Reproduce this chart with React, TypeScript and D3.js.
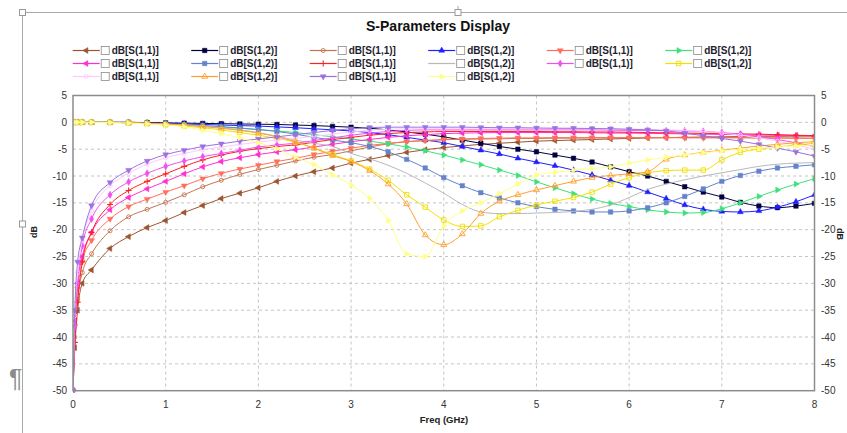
import React from 'react';
import * as d3 from 'd3';

// frequency sweep (GHz) shared by every trace
const FREQ = [0, 0.02, 0.05, 0.1, 0.2, 0.4, 0.6, 0.8, 1.0, 1.2, 1.4, 1.6, 1.8, 2.0, 2.2, 2.4, 2.6, 2.8, 3.0, 3.2, 3.4,
  3.6, 3.8, 4.0, 4.2, 4.4, 4.6, 4.8, 5.0, 5.2, 5.4, 5.6, 5.8, 6.0, 6.2, 6.4, 6.6, 6.8, 7.0, 7.2, 7.4, 7.6, 7.8, 8.0];

const S11_BROWN = [-50, -42, -35, -30,
  -27.5, -23.5, -21.3, -19.6, -18.3, -16.8, -15.5, -14.2, -13.2, -12.2, -11.0, -10.0, -9.2, -8.5, -7.6,
  -6.9, -6.2, -5.6, -5.1, -4.7, -4.4, -4.1, -3.9, -3.7, -3.5, -3.4, -3.3, -3.2, -3.1, -3.0,
  -2.9, -2.85, -2.8, -2.75, -2.7, -2.65, -2.6, -2.6, -2.55, -2.5];
const S12_NAVY = [0, 0, 0, 0,
  0, 0, 0, -0.05, -0.1, -0.15, -0.2, -0.25, -0.3, -0.35, -0.4, -0.5, -0.6, -0.75, -0.9,
  -1.1, -1.4, -1.8, -2.2, -2.7, -3.3, -3.9, -4.5, -5.0, -5.5, -6.1, -6.7, -7.4, -8.3, -9.2,
  -10.0, -11.0, -12.0, -13.0, -13.9, -14.9, -15.6, -15.9, -15.6, -15.1];
const S11_SIENNA = [-50, -40, -33, -28,
  -24.5, -20.2, -17.6, -16.2, -14.9, -13.5, -12.0, -10.8, -9.7, -8.8, -8.0, -7.2, -6.5, -6.0, -5.3,
  -4.6, -4.0, -3.6, -3.4, -3.25, -3.15, -3.1, -3.05, -3.0, -3.0, -2.95, -2.95, -2.9, -2.9, -2.9,
  -2.85, -2.85, -2.8, -2.8, -2.8, -2.8, -2.75, -2.75, -2.75, -2.7];
const S12_BLUE = [0, 0, 0, 0,
  0, 0, 0, -0.1, -0.2, -0.3, -0.4, -0.5, -0.6, -0.7, -0.85, -1.0, -1.2, -1.4, -1.6,
  -1.9, -2.3, -2.8, -3.3, -3.8, -4.5, -5.2, -5.9, -6.7, -7.4, -8.1, -8.9, -9.8, -10.8, -11.8,
  -13.0, -14.2, -15.4, -16.2, -16.6, -16.7, -16.5, -15.8, -14.8, -13.5];
const S11_SALMON = [-50, -38, -31, -26,
  -22, -18, -15.7, -14.3, -13.0, -11.8, -10.5, -9.5, -8.7, -8.0, -7.3, -6.7, -6.0, -5.4, -4.8,
  -4.3, -3.9, -3.6, -3.4, -3.2, -3.1, -3.0, -2.95, -2.9, -2.9, -2.85, -2.85, -2.85, -2.85, -2.85,
  -2.85, -2.85, -2.9, -2.9, -2.9, -2.9, -2.95, -2.95, -3.0, -3.0];
const S12_GREEN = [0, 0, 0, 0,
  0, 0, -0.1, -0.2, -0.35, -0.5, -0.7, -0.9, -1.1, -1.35, -1.6, -1.9, -2.3, -2.7, -3.1,
  -3.5, -4.0, -4.6, -5.3, -6.1, -7.0, -7.9, -8.9, -9.9, -11.1, -12.2, -13.3, -14.3, -15.1, -15.7,
  -16.3, -16.7, -16.9, -16.8, -16.1, -15.0, -13.8, -12.6, -11.5, -10.5];
const S11_MAGENTA = [-50, -37, -30, -25,
  -20.5, -16.3, -14.0, -12.4, -11.0, -9.6, -8.3, -7.3, -6.6, -6.0, -5.5, -5.1, -4.6, -4.1, -3.6,
  -3.2, -2.8, -2.5, -2.3, -2.1, -2.0, -1.95, -1.9, -1.9, -1.9, -1.9, -1.9, -1.95, -2.0, -2.0,
  -2.05, -2.1, -2.15, -2.2, -2.25, -2.3, -2.35, -2.4, -2.45, -2.5];
const S12_CORNFLOWER = [0, 0, 0, 0,
  0, 0, -0.1, -0.2, -0.3, -0.45, -0.6, -0.8, -1.05, -1.35, -1.7, -2.2, -2.8, -3.3, -3.8,
  -4.5, -5.5, -6.9, -8.5, -10.3, -11.8, -13.1, -14.1, -15.0, -15.7, -16.2, -16.5, -16.7, -16.7, -16.5,
  -15.9, -15.0, -13.8, -12.4, -11.0, -9.9, -9.1, -8.5, -8.2, -7.9];
const S11_RED = [-50, -41, -33.5, -26,
  -20.5, -15.3, -12.7, -11.0, -9.6, -8.2, -7.0, -6.1, -5.4, -4.9, -4.5, -4.2, -3.7, -3.2, -2.8,
  -2.4, -2.1, -1.9, -1.8, -1.7, -1.7, -1.7, -1.7, -1.7, -1.7, -1.75, -1.75, -1.8, -1.8, -1.85,
  -1.9, -1.95, -2.0, -2.05, -2.1, -2.15, -2.2, -2.3, -2.4, -2.5];
const S12_GREY = [0, 0, 0, 0,
  0, 0, -0.1, -0.2, -0.35, -0.5, -0.7, -1.0, -1.4, -1.9, -2.6, -3.3, -3.9, -4.5, -5.8,
  -6.8, -8.0, -9.5, -11.3, -13.2, -15.3, -16.7, -17.0, -17.0, -16.9, -16.8, -16.6, -16.2, -15.4, -14.0,
  -12.5, -11.5, -10.7, -10.0, -9.4, -8.8, -8.2, -7.8, -7.6, -7.5];
const S11_VIOLET = [-50, -38, -30, -23,
  -18, -13.5, -11.1, -9.5, -8.2, -7.2, -6.4, -5.8, -5.2, -4.6, -4.2, -3.9, -3.4, -2.9, -2.4,
  -2.0, -1.7, -1.5, -1.4, -1.4, -1.4, -1.4, -1.4, -1.4, -1.4, -1.4, -1.4, -1.4, -1.45, -1.5,
  -1.5, -1.55, -1.6, -1.7, -1.9, -2.2, -2.6, -3.2, -3.8, -4.5];
const S12_YELLOW = [0, 0, 0, 0,
  0, 0, -0.1, -0.25, -0.45, -0.7, -1.0, -1.4, -1.9, -2.4, -3.0, -3.7, -4.8, -6.0, -7.2,
  -8.7, -10.8, -13.5, -15.8, -18.2, -19.4, -19.3, -17.6, -16.4, -15.4, -14.7, -14.0, -13.0, -11.5, -10.3,
  -9.4, -9.0, -8.9, -8.9, -7.0, -5.6, -5.0, -4.6, -4.2, -3.9];
const S11_PINK = [-50, -36, -28, -22,
  -16.5, -11.8, -9.5, -7.8, -6.6, -5.8, -5.1, -4.6, -4.1, -3.7, -3.3, -3.0, -2.6, -2.2, -1.8,
  -1.5, -1.3, -1.2, -1.2, -1.2, -1.2, -1.2, -1.2, -1.2, -1.2, -1.2, -1.2, -1.2, -1.2, -1.25,
  -1.3, -1.4, -1.5, -1.7, -2.0, -2.4, -2.9, -3.5, -4.2, -5.0];
const S12_ORANGE = [0, 0, 0, 0,
  0, 0, -0.05, -0.15, -0.3, -0.5, -0.8, -1.1, -1.5, -2.0, -2.7, -3.6, -4.8, -6.2, -7.3,
  -9.0, -11.5, -15.2, -21.0, -22.8, -20.8, -17.0, -14.7, -13.5, -12.6, -11.8, -11.0, -10.3, -9.9, -9.6,
  -9.2, -6.9, -6.1, -5.6, -5.2, -4.8, -4.4, -4.1, -3.8, -3.6];
const S11_PURPLE = [-50, -35, -26, -21.5,
  -15.5, -11.2, -8.9, -7.2, -6.0, -5.2, -4.5, -4.0, -3.5, -3.1, -2.7, -2.3, -1.9, -1.5, -1.2,
  -1.0, -0.9, -0.9, -0.9, -0.9, -0.9, -0.95, -1.0, -1.0, -1.05, -1.1, -1.1, -1.15, -1.2, -1.3,
  -1.4, -1.6, -2.0, -2.5, -3.0, -3.5, -4.1, -4.8, -5.5, -6.3];
const S12_LIGHTYELLOW = [0, 0, 0, 0,
  0, -0.05, -0.15, -0.3, -0.5, -0.8, -1.5, -2.1, -2.9, -3.8, -4.9, -6.5, -7.9, -9.8, -11.7,
  -14.2, -18.3, -24.5, -25.0, -19.3, -16.5, -15.0, -13.3, -11.5, -9.8, -9.3, -8.9, -8.6, -8.3, -7.6,
  -7.0, -6.5, -6.1, -5.7, -5.3, -5.0, -4.8, -4.6, -4.4, -4.2];

const SERIES_NAMES = ['dB[S(1,1)]', 'dB[S(1,2)]', 'dB[S(1,1)]', 'dB[S(1,2)]', 'dB[S(1,1)]', 'dB[S(1,2)]',
  'dB[S(1,1)]', 'dB[S(1,2)]', 'dB[S(1,1)]', 'dB[S(1,2)]', 'dB[S(1,1)]', 'dB[S(1,2)]',
  'dB[S(1,1)]', 'dB[S(1,2)]', 'dB[S(1,1)]', 'dB[S(1,2)]'];
const SERIES_VALUES = [S11_BROWN, S12_NAVY, S11_SIENNA, S12_BLUE, S11_SALMON, S12_GREEN,
  S11_MAGENTA, S12_CORNFLOWER, S11_RED, S12_GREY, S11_VIOLET, S12_YELLOW,
  S11_PINK, S12_ORANGE, S11_PURPLE, S12_LIGHTYELLOW];

const X_TICKS = [0, 1, 2, 3, 4, 5, 6, 7, 8];
const Y_TICKS = [5, 0, -5, -10, -15, -20, -25, -30, -35, -40, -45, -50];

// styling per trace (kept apart from the numbers)
const COLORS = ['#9c5530', '#000040', '#c27650', '#2020ff', '#ff6f5c', '#3ee07a',
  '#ff30d0', '#6383cc', '#ff2020', '#b8b8b8', '#f050f0', '#f0e000',
  '#ffc8ff', '#ffa030', '#9a72e0', '#ffff88'];
const MARKERS = ['triL', 'square', 'circleO', 'triU', 'triD', 'triR',
  'triL', 'square', 'plus', 'none', 'diamond', 'squareO',
  'circleO', 'triUO', 'triD', 'triR'];

const W = 847;
const H = 433;
const FONT = '"Liberation Sans", Arial, sans-serif';

const sym = (t: d3.SymbolType, s: number) => d3.symbol().type(t).size(s)() as string;
const SHAPES: Record<string, string> = {
  square: sym(d3.symbolSquare, 20),
  circle: sym(d3.symbolCircle, 13),
  tri: sym(d3.symbolTriangle, 15),
  diamond: sym(d3.symbolDiamond, 15),
};

function Marker({ kind, color, x, y }: { kind: string; color: string; x: number; y: number }) {
  if (kind === 'none') return null;
  if (kind === 'plus') {
    return <path d={`M${x - 3},${y}H${x + 3}M${x},${y - 3}V${y + 3}`} stroke={color} strokeWidth={1.1} />;
  }
  let shape = 'tri', rot = 0, filled = true;
  if (kind === 'triL') rot = -90;
  else if (kind === 'triR') rot = 90;
  else if (kind === 'triD') rot = 180;
  else if (kind === 'triUO') filled = false;
  else if (kind === 'square') shape = 'square';
  else if (kind === 'squareO') { shape = 'square'; filled = false; }
  else if (kind === 'circleO') { shape = 'circle'; filled = false; }
  else if (kind === 'diamond') shape = 'diamond';
  return (
    <path d={SHAPES[shape]} transform={`translate(${x},${y}) rotate(${rot})`}
      fill={filled ? color : 'none'} stroke={color} strokeWidth={filled ? 0.5 : 0.9} />
  );
}

export default function App() {
  const x = d3.scaleLinear().domain([0, 8]).range([73, 814.5]);
  const y = d3.scaleLinear().domain([-50, 5]).range([390.7, 95.5]);
  const line = d3.line<number>()
    .x((_, i) => x(FREQ[i]))
    .y(d => y(d))
    .curve(d3.curveMonotoneX);

  const [x0, x1] = x.range();
  const [yb, yt] = y.range();

  return (
    <svg width={W} height={H} style={{ position: 'absolute', left: 0, top: 0, background: '#fff' }}
      fontFamily={FONT}>
      {/* document frame + handles */}
      <line x1={22.5} y1={12.5} x2={W} y2={12.5} stroke="#a8a8a8" />
      <line x1={22.5} y1={12.5} x2={22.5} y2={H} stroke="#a8a8a8" />
      <line x1={458} y1={6} x2={458} y2={9} stroke="#a8a8a8" />
      {[[22.5, 12.5], [458, 12.5], [22.5, 224]].map(([hx, hy], i) => (
        <rect key={i} x={hx - 3} y={hy - 3} width={6} height={6} fill="#fff" stroke="#999" />
      ))}
      <text x={9} y={387} fontSize={25} fill="#8c8c8c">¶</text>

      {/* title */}
      <text x={438} y={31} textAnchor="middle" fontSize={14} fontWeight="bold" fill="#111">S-Parameters Display</text>

      {/* legend */}
      {SERIES_NAMES.map((name, i) => {
        const lx = 72.7 + (i % 6) * 118.5;
        const ly = 50.5 + Math.floor(i / 6) * 13;
        return (
          <g key={i}>
            <line x1={lx} y1={ly} x2={lx + 27} y2={ly} stroke={COLORS[i]} strokeWidth={1.2} />
            <Marker kind={MARKERS[i]} color={COLORS[i]} x={lx + 13.5} y={ly} />
            <rect x={lx + 28.5} y={ly - 4} width={8} height={8} fill="#fff" stroke="#8a8a8a" strokeWidth={0.8} />
            <text x={lx + 39} y={ly + 3.6} fontSize={10} fontWeight="bold" fill="#1e1e30">{name}</text>
          </g>
        );
      })}

      {/* grid */}
      {X_TICKS.slice(1, -1).map(t => (
        <line key={'gx' + t} x1={x(t)} x2={x(t)} y1={yt} y2={yb} stroke="#c4c4c4" strokeDasharray="3,3" />
      ))}
      {Y_TICKS.slice(1, -1).map(t => (
        <line key={'gy' + t} x1={x0} x2={x1} y1={y(t)} y2={y(t)} stroke="#c4c4c4" strokeDasharray="3,3" />
      ))}

      {/* traces */}
      <defs>
        <clipPath id="plotClip"><rect x={x0} y={yt} width={x1 - x0} height={yb - yt + 2} /></clipPath>
      </defs>
      <g clipPath="url(#plotClip)">
        {SERIES_VALUES.map((vals, i) => (
          <g key={i}>
            <path d={line(vals) as string} fill="none" stroke={COLORS[i]} strokeWidth={1} />
            {vals.map((v, j) => (
              <Marker key={j} kind={MARKERS[i]} color={COLORS[i]} x={x(FREQ[j])} y={y(v)} />
            ))}
          </g>
        ))}
      </g>

      {/* plot frame */}
      <rect x={x0} y={yt} width={x1 - x0} height={yb - yt} fill="none" stroke="#8c8c8c" strokeWidth={1.5} />

      {/* axes labels */}
      {Y_TICKS.map(t => (
        <g key={'yl' + t} fontSize={10} fill="#333">
          <text x={67} y={y(t) + 3.5} textAnchor="end">{t}</text>
          <text x={821} y={y(t) + 3.5} textAnchor="start">{t}</text>
        </g>
      ))}
      {X_TICKS.map(t => (
        <text key={'xl' + t} x={x(t)} y={408} textAnchor="middle" fontSize={10} fill="#333">{t}</text>
      ))}
      <text x={444} y={423} textAnchor="middle" fontSize={9.5} fontWeight="bold" fill="#222">Freq (GHz)</text>
      <text transform="translate(37,232) rotate(-90)" textAnchor="middle" fontSize={9} fontWeight="bold" fill="#222">dB</text>
      <text transform="translate(837,234) rotate(90)" textAnchor="middle" fontSize={9} fontWeight="bold" fill="#222">dB</text>
    </svg>
  );
}
